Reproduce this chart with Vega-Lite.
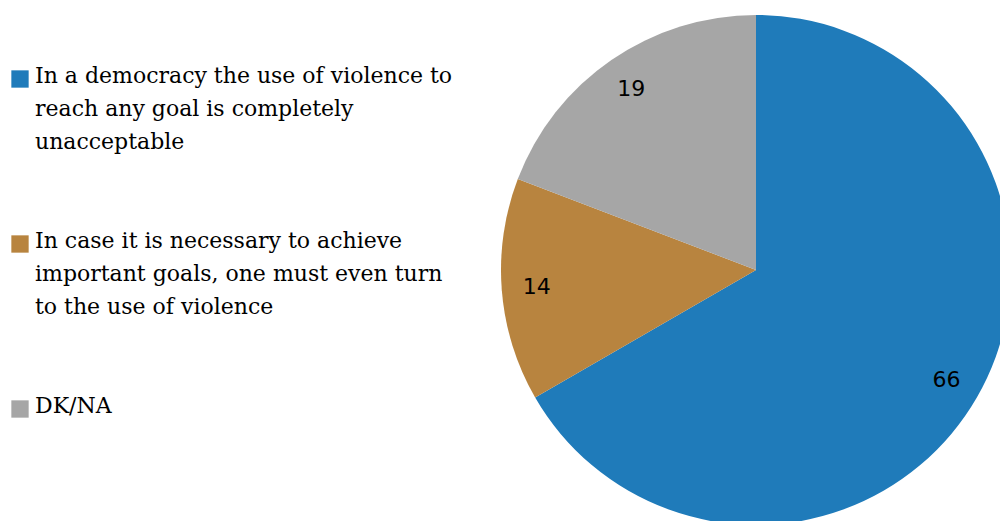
{
  "$schema": "https://vega.github.io/schema/vega-lite/v6.json",
  "width": 510,
  "height": 510,
  "autosize": "none",
  "padding": {"left": 501, "top": 15, "right": 0, "bottom": 0},
  "background": "white",
  "data": {
    "values": [
      {"category": "In a democracy the use of violence  to\nreach any goal is completely\nunacceptable", "value": 66, "order": 1},
      {"category": "In case it is necessary  to achieve\nimportant goals, one must even turn\nto the use  of violence", "value": 14, "order": 2},
      {"category": "DK/NA", "value": 19, "order": 3}
    ]
  },
  "encoding": {
    "theta": {"field": "value", "type": "quantitative", "stack": true},
    "order": {"field": "order", "type": "quantitative"}
  },
  "layer": [
    {
      "mark": {"type": "arc", "outerRadius": 255},
      "encoding": {
        "color": {
          "field": "category",
          "type": "nominal",
          "sort": {"field": "order"},
          "scale": {"range": ["#1f7bba", "#b8843f", "#a6a6a6"]},
          "legend": {
            "title": null,
            "orient": "none",
            "legendX": -492,
            "legendY": 53,
            "symbolType": "square",
            "symbolSize": 300,
            "symbolStrokeWidth": 0,
            "labelFont": "DejaVu Serif",
            "labelFontSize": 22,
            "labelColor": "#000000",
            "labelLimit": 600,
            "labelExpr": "split(datum.label, '\\n')",
            "labelBaseline": "alphabetic",
            "labelOffset": 4,
            "rowPadding": 77,
            "symbolOffset": 0,
            "encode": {
              "labels": {"update": {"lineHeight": {"value": 33}, "dy": {"value": 4}}}
            }
          }
        }
      }
    },
    {
      "mark": {"type": "text", "radius": 220, "font": "DejaVu Sans", "fontSize": 22, "color": "#000000"},
      "encoding": {"text": {"field": "value", "type": "quantitative"}}
    }
  ]
}
